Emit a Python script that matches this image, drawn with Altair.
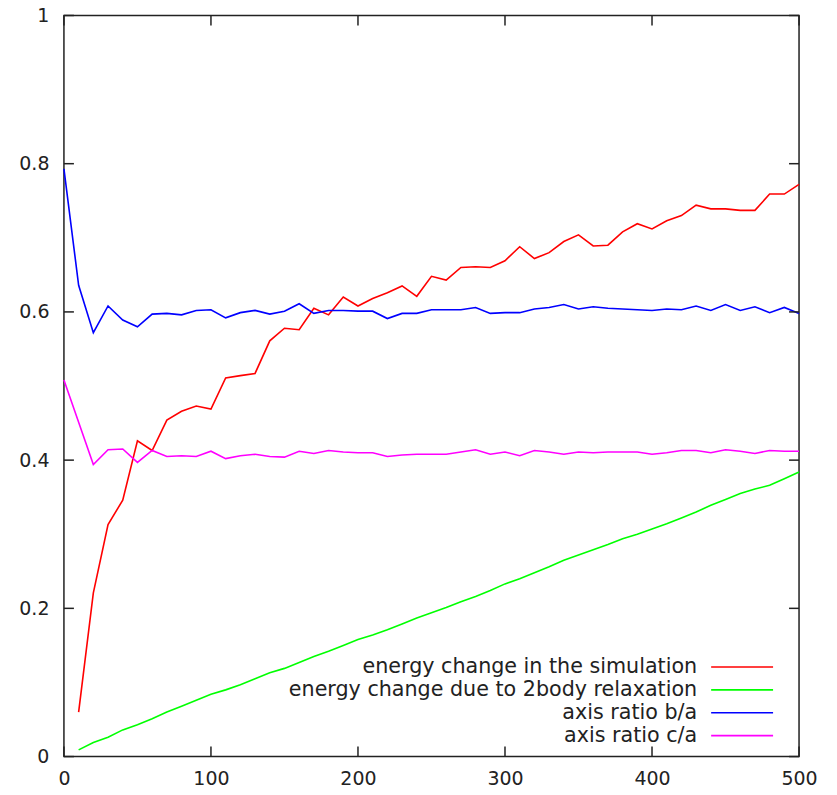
import altair as alt
import pandas as pd

# ---------------- data ----------------
x_energy = list(range(10, 510, 10))   # 10..500
x_axis = list(range(0, 510, 10))      # 0..500

energy_sim = [0.060, 0.221, 0.313, 0.346, 0.426, 0.413, 0.454, 0.466, 0.473, 0.469,
              0.511, 0.514, 0.517, 0.561, 0.578, 0.576, 0.605, 0.596, 0.620, 0.608,
              0.618, 0.626, 0.635, 0.621, 0.648, 0.643, 0.660, 0.661, 0.660, 0.669,
              0.688, 0.672, 0.680, 0.695, 0.704, 0.689, 0.690, 0.708, 0.719, 0.712,
              0.723, 0.730, 0.744, 0.739, 0.739, 0.737, 0.737, 0.759, 0.759, 0.772]

energy_2body = [0.009, 0.019, 0.026, 0.036, 0.043, 0.051, 0.060, 0.068, 0.076, 0.084,
                0.090, 0.097, 0.105, 0.113, 0.119, 0.127, 0.135, 0.142, 0.150, 0.158,
                0.164, 0.171, 0.179, 0.187, 0.194, 0.201, 0.209, 0.216, 0.224, 0.233,
                0.240, 0.248, 0.256, 0.265, 0.272, 0.279, 0.286, 0.294, 0.300, 0.307,
                0.314, 0.322, 0.330, 0.339, 0.347, 0.355, 0.361, 0.366, 0.375, 0.384]

ratio_ba = [0.793, 0.636, 0.572, 0.608, 0.589, 0.580, 0.597, 0.598, 0.596, 0.602,
            0.603, 0.592, 0.599, 0.602, 0.597, 0.601, 0.611, 0.598, 0.602, 0.602,
            0.601, 0.601, 0.591, 0.598, 0.598, 0.603, 0.603, 0.603, 0.606, 0.598,
            0.599, 0.599, 0.604, 0.606, 0.610, 0.604, 0.607, 0.605, 0.604, 0.603,
            0.602, 0.604, 0.603, 0.608, 0.602, 0.610, 0.602, 0.607, 0.599, 0.606,
            0.598]

ratio_ca = [0.508, 0.451, 0.394, 0.414, 0.415, 0.397, 0.413, 0.405, 0.406, 0.405,
            0.412, 0.402, 0.406, 0.408, 0.405, 0.404, 0.412, 0.409, 0.413, 0.411,
            0.410, 0.410, 0.405, 0.407, 0.408, 0.408, 0.408, 0.411, 0.414, 0.408,
            0.411, 0.406, 0.413, 0.411, 0.408, 0.411, 0.410, 0.411, 0.411, 0.411,
            0.408, 0.410, 0.413, 0.413, 0.410, 0.414, 0.412, 0.409, 0.413, 0.412,
            0.412]

names = ["energy change in the simulation",
         "energy change due to 2body relaxation",
         "axis ratio b/a",
         "axis ratio c/a"]
colors = ["#ff0000", "#00ff00", "#0000ff", "#ff00ff"]

x_ticks = [0, 100, 200, 300, 400, 500]
y_ticks = [0, 0.2, 0.4, 0.6, 0.8, 1.0]

# ---------------- layout ----------------
W, H = 736, 742
FONT = "DejaVu Sans"
TICK = 10

rows = []
for xs, ys, nm in [(x_energy, energy_sim, names[0]), (x_energy, energy_2body, names[1]),
                   (x_axis, ratio_ba, names[2]), (x_axis, ratio_ca, names[3])]:
    for xv, yv in zip(xs, ys):
        rows.append({"x": xv, "y": yv, "series": nm})
df = pd.DataFrame(rows)

xscale = alt.Scale(domain=[0, 500], nice=False, zero=False)
yscale = alt.Scale(domain=[0, 1], nice=False, zero=False)
cscale = alt.Scale(domain=names, range=colors)

xaxis = alt.Axis(values=x_ticks, format="d", labelPadding=13, labelFlush=False,
                 labelFontSize=19, labelFont=FONT, labelColor="#222",
                 ticks=False, domain=False, grid=False)
yaxis = alt.Axis(values=y_ticks, format="~g", labelPadding=15, labelFlush=False,
                 labelFontSize=19, labelFont=FONT, labelColor="#222",
                 ticks=False, domain=False, grid=False)

lines = alt.Chart(df).mark_line(strokeWidth=1.6).encode(
    x=alt.X("x:Q", scale=xscale, title=None, axis=xaxis),
    y=alt.Y("y:Q", scale=yscale, title=None, axis=yaxis),
    color=alt.Color("series:N", scale=cscale, legend=None),
    detail="series:N",
)

ydf = pd.DataFrame({"v": y_ticks})
xdf = pd.DataFrame({"v": x_ticks})
tick_style = dict(color="#222", strokeWidth=1.5)
left_t = alt.Chart(ydf).mark_rule(**tick_style).encode(
    y=alt.Y("v:Q", scale=yscale, title=None, axis=yaxis), x=alt.value(0), x2=alt.value(TICK))
right_t = alt.Chart(ydf).mark_rule(**tick_style).encode(
    y=alt.Y("v:Q", scale=yscale, title=None, axis=yaxis), x=alt.value(W - TICK), x2=alt.value(W))
top_t = alt.Chart(xdf).mark_rule(**tick_style).encode(
    x=alt.X("v:Q", scale=xscale, title=None, axis=xaxis), y=alt.value(0), y2=alt.value(TICK))
bot_t = alt.Chart(xdf).mark_rule(**tick_style).encode(
    x=alt.X("v:Q", scale=xscale, title=None, axis=xaxis), y=alt.value(H - TICK), y2=alt.value(H))

# custom gnuplot-style key (text right-aligned, sample line to its right)
legend_layers = []
row_y0, dy = 652.3, 22.9
for i, (nm, col) in enumerate(zip(names, colors)):
    ldf = pd.DataFrame({"series": [nm]})
    yy = row_y0 + i * dy
    legend_layers.append(
        alt.Chart(ldf).mark_text(align="right", baseline="middle", font=FONT,
                                 fontSize=20.7, color="#222").encode(
            text="series:N", x=alt.value(634), y=alt.value(yy)))
    legend_layers.append(
        alt.Chart(ldf).mark_rule(strokeWidth=1.6, color=col).encode(
            x=alt.value(648), x2=alt.value(710), y=alt.value(yy)))

chart = alt.layer(lines, left_t, right_t, top_t, bot_t, *legend_layers).properties(
    width=W, height=H,
    autosize=alt.AutoSizeParams(type="none"),
    padding={"left": 56, "top": 7, "right": 30, "bottom": 40},
).configure(background="white").configure_view(stroke="#222", strokeWidth=1.5)

chart.save("out.html", embed_options={"renderer": "svg", "actions": False})
